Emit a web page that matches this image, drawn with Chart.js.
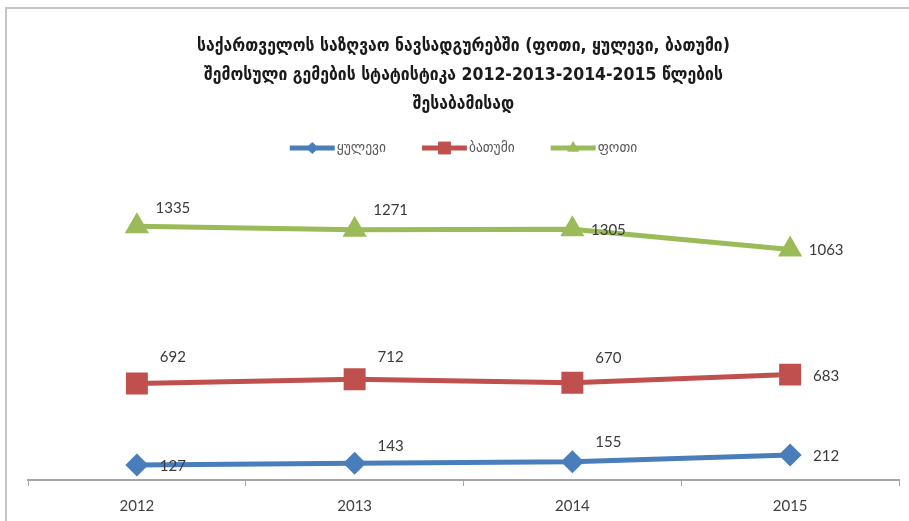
<!DOCTYPE html>
<html>
<head>
<meta charset="utf-8">
<script src="https://cdn.jsdelivr.net/npm/chart.js@4"></script>
<style>
  html, body { margin: 0; padding: 0; background: #fff; }
  #wrap { width: 909px; height: 521px; }
</style>
</head>
<body>
<div id="wrap"><canvas id="ports"></canvas></div>
<script>
  const years = ["2012", "2013", "2014", "2015"];
  const kulevi = [127, 143, 155, 212];
  const batumi = [692, 712, 670, 683];
  const poti = [1335, 1271, 1305, 1063];

  const titleLines = [
    "საქართველოს საზღვაო ნავსადგურებში (ფოთი, ყულევი, ბათუმი)",
    "შემოსული გემების სტატისტიკა 2012-2013-2014-2015 წლების",
    "შესაბამისად",
  ];

  const numFont = "15px Lato, 'Open Sans', sans-serif";

  // grey frame along the top and left edge
  const framePlugin = {
    id: "frame",
    beforeDraw(chart) {
      const ctx = chart.ctx;
      ctx.save();
      ctx.fillStyle = "#fff";
      ctx.fillRect(0, 0, chart.width, chart.height);
      ctx.strokeStyle = "#c4c4c4";
      ctx.lineWidth = 2;
      ctx.beginPath();
      ctx.moveTo(chart.width, 8);
      ctx.lineTo(6, 8);
      ctx.lineTo(6, chart.height);
      ctx.stroke();
      ctx.restore();
    },
  };

  // legend drawn as line + marker, the way the series look
  const lineLegend = {
    id: "lineLegend",
    afterDraw(chart) {
      const ctx = chart.ctx;
      const y = 148;
      const seg = 45, gap = 2, between = 36;
      ctx.save();
      ctx.font = "15px 'DejaVu Sans Condensed', 'DejaVu Sans', sans-serif";
      const items = chart.data.datasets.map((ds) => ({
        ds,
        w: seg + gap + ctx.measureText(ds.label).width,
      }));
      const total = items.reduce((s, it) => s + it.w, 0) + between * (items.length - 1);
      const area = chart.chartArea;
      let x = (area.left + area.right) / 2 - total / 2;
      items.forEach((it) => {
        const ds = it.ds;
        ctx.strokeStyle = ds.borderColor;
        ctx.fillStyle = ds.borderColor;
        ctx.lineWidth = 5;
        ctx.beginPath();
        ctx.moveTo(x, y);
        ctx.lineTo(x + seg, y);
        ctx.stroke();
        ctx.lineWidth = 1;
        Chart.helpers.drawPoint(ctx, {
          pointStyle: ds.pointStyle,
          radius: ds.pointRadius * 0.7,
          borderWidth: 1,
        }, x + seg / 2, y);
        ctx.fillStyle = "#595959";
        ctx.textBaseline = "middle";
        ctx.textAlign = "left";
        ctx.fillText(ds.label, x + seg + gap, y);
        x += it.w + between;
      });
      ctx.restore();
    },
  };

  // value labels next to each marker
  const valueLabels = {
    id: "valueLabels",
    afterDatasetsDraw(chart) {
      const ctx = chart.ctx;
      ctx.save();
      ctx.font = numFont;
      ctx.fillStyle = "#3a3a3a";
      ctx.textAlign = "center";
      ctx.textBaseline = "middle";
      chart.data.datasets.forEach((ds, di) => {
        const meta = chart.getDatasetMeta(di);
        meta.data.forEach((pt, i) => {
          ctx.fillText(String(ds.data[i]), pt.x + 36, pt.y + ds.labelDy[i]);
        });
      });
      ctx.restore();
    },
  };

  function series(label, values, color, style, radius, labelDy) {
    return {
      label,
      data: values,
      borderColor: color,
      backgroundColor: color,
      pointBackgroundColor: color,
      pointBorderColor: color,
      borderWidth: 5,
      pointStyle: style,
      pointRadius: radius,
      pointHoverRadius: radius,
      tension: 0,
      fill: false,
      labelDy,
    };
  }

  new Chart(document.getElementById("ports"), {
    type: "line",
    data: {
      labels: years,
      datasets: [
        series("ყულევი", kulevi, "#4a7ebb", "rectRot", 8, [1, -17, -20, 1]),
        series("ბათუმი", batumi, "#c0504d", "rect", 12, [-26, -22, -25, 2]),
        series("ფოთი", poti, "#9bbb59", "triangle", 9, [-18, -20, 1, 1]),
      ],
    },
    options: {
      responsive: true,
      maintainAspectRatio: false,
      animation: false,
      layout: { autoPadding: false, padding: { left: 28, right: 10, bottom: -5 } },
      plugins: {
        legend: { display: false },
        tooltip: { enabled: false },
        title: {
          display: true,
          text: titleLines,
          color: "#1a1a1a",
          font: { family: "'DejaVu Sans Condensed', 'DejaVu Sans', sans-serif", size: 17.5, weight: "bold", lineHeight: 1.65 },
          padding: { top: 32, bottom: 67 },
        },
      },
      scales: {
        x: {
          offset: true,
          grid: {
            offset: true,
            drawOnChartArea: false,
            color: "#a6a6a6",
            tickLength: 6,
          },
          border: { color: "#a6a6a6", width: 2 },
          ticks: { color: "#404040", font: { family: "Lato, 'Open Sans', sans-serif", size: 15 }, padding: 11 },
        },
        y: {
          display: false,
          stacked: true,
          min: 0,
          max: 2500,
        },
      },
    },
    plugins: [framePlugin, lineLegend, valueLabels],
  });
</script>
</body>
</html>
